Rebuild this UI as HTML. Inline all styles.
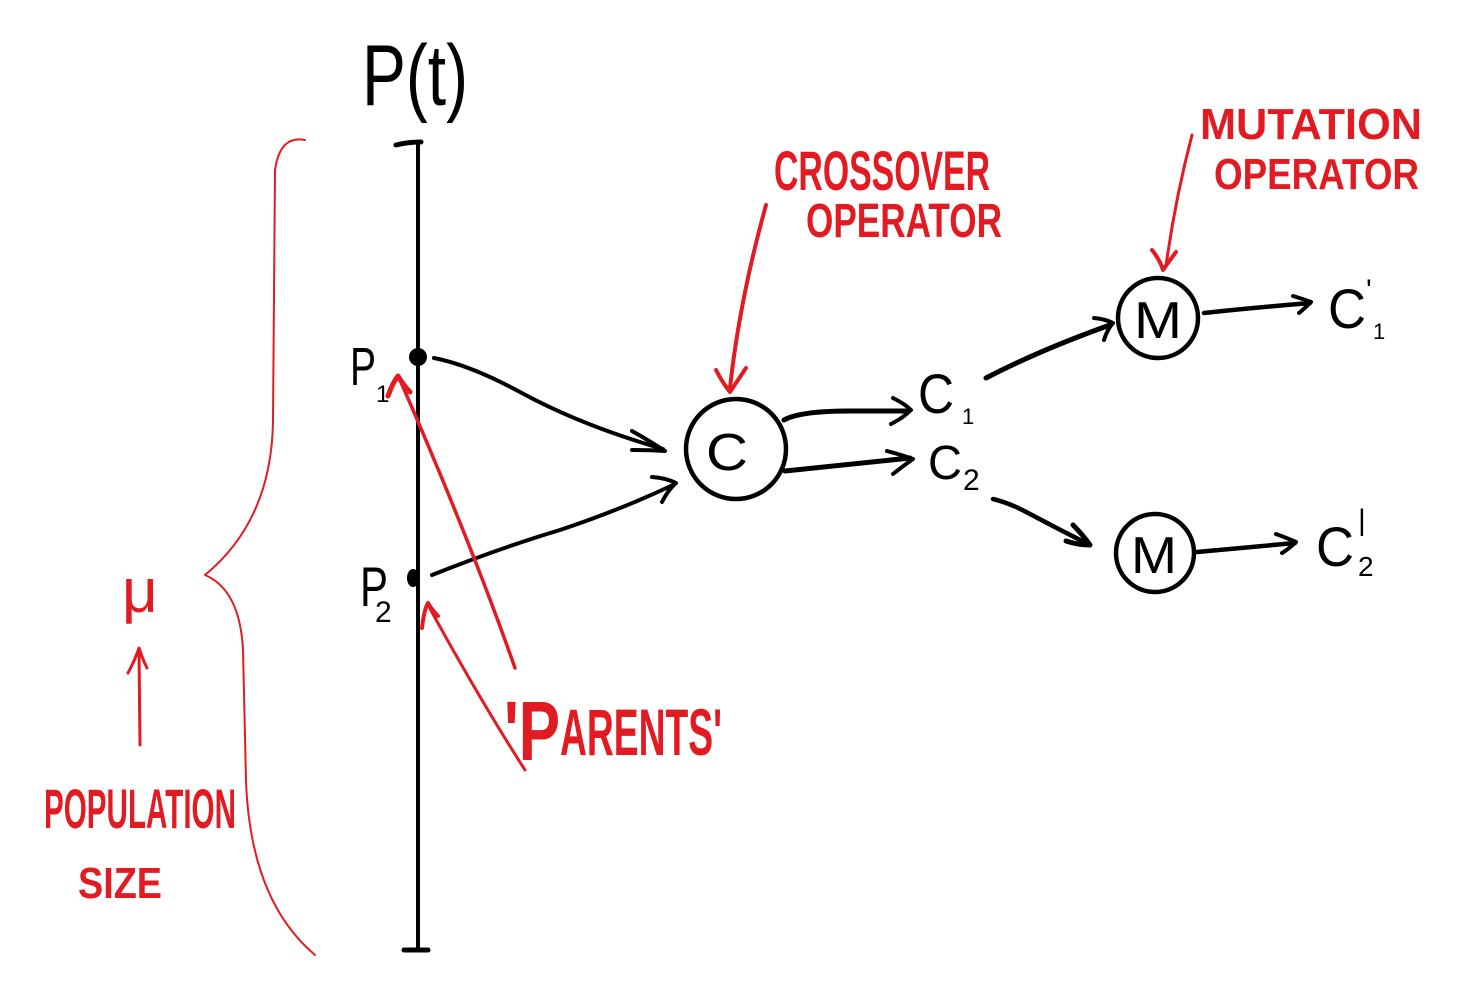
<!DOCTYPE html>
<html><head><meta charset="utf-8"><style>
html,body{margin:0;padding:0;background:#fff;}
svg{display:block;}
text{font-family:"Liberation Sans",sans-serif;}
.k{fill:#000;}
.r{fill:#e21b22;}
</style></head><body>
<svg width="1461" height="983" viewBox="0 0 1461 983" xmlns="http://www.w3.org/2000/svg">
<g fill="none" stroke="#000" stroke-linecap="round" stroke-linejoin="round">
  <path d="M418 145 L418 950" stroke-width="4"/>
  <path d="M396 145 Q408 142 421 142" stroke-width="5"/>
  <path d="M404 950 L428 950" stroke-width="5"/>
  <circle cx="418" cy="357" r="9" fill="#000" stroke="none"/>
  <ellipse cx="413" cy="578" rx="6" ry="9" fill="#000" stroke="none"/>
  <path d="M434 358 Q470 365 520 392 Q580 425 663 449" stroke-width="4"/>
  <path d="M632 431 Q648 440 665 451 Q650 450 632 450" stroke-width="4"/>
  <path d="M432 575 Q500 548 560 530 Q620 510 673 485" stroke-width="4"/>
  <path d="M652 477 Q666 478 676 483 Q668 490 662 502" stroke-width="4"/>
  <circle cx="736" cy="449" r="50" stroke-width="4.5"/>
  <path d="M784 420 Q800 411 850 411 L908 411" stroke-width="5"/>
  <path d="M893 398 Q905 404 911 410 Q903 418 891 424" stroke-width="4"/>
  <path d="M785 471 Q850 464 910 458" stroke-width="5"/>
  <path d="M887 451 Q902 455 913 459 Q903 466 893 474" stroke-width="4"/>
  <path d="M986 378 Q1040 350 1110 325" stroke-width="5"/>
  <path d="M1094 318 Q1105 319 1113 323 Q1107 330 1104 340" stroke-width="4"/>
  <circle cx="1158" cy="318" r="40" stroke-width="4.5"/>
  <path d="M1204 313 Q1250 308 1310 303" stroke-width="4.5"/>
  <path d="M1293 296 Q1303 299 1311 302 Q1304 309 1299 313" stroke-width="4"/>
  <path d="M993 499 Q1010 503 1030 514 Q1060 530 1090 545" stroke-width="4.5"/>
  <path d="M1073 525 Q1083 535 1090 545 Q1078 545 1066 541" stroke-width="5"/>
  <circle cx="1155" cy="553" r="39" stroke-width="4.5"/>
  <path d="M1197 552 Q1250 547 1295 543" stroke-width="4.5"/>
  <path d="M1276 534 Q1287 538 1296 542 Q1290 548 1282 553" stroke-width="4"/>
</g>

<g fill="none" stroke="#e21b22" stroke-linecap="round" stroke-linejoin="round">
  <path d="M305 140 Q280 135 275 170 L273 420 Q272 520 205 575 Q240 590 243 650 L246 780 Q250 900 315 955" stroke-width="2"/>
  <path d="M766 205 Q748 270 738 330 Q733 360 730 388" stroke-width="4"/>
  <path d="M716 370 Q722 382 730 392 Q738 380 746 368" stroke-width="4"/>
  <path d="M1192 135 Q1175 200 1166 266" stroke-width="3"/>
  <path d="M1152 250 Q1160 260 1163 270 Q1170 260 1176 252" stroke-width="4"/>
  <path d="M515 668 Q470 540 400 380" stroke-width="3.5"/>
  <path d="M388 396 Q393 382 398 376 Q404 386 410 392" stroke-width="5"/>
  <path d="M525 770 Q480 700 428 605" stroke-width="3"/>
  <path d="M422 628 Q424 610 428 603 Q432 610 438 616" stroke-width="4"/>
  <path d="M140 745 L139 650" stroke-width="3"/>
  <path d="M128 673 Q135 660 139 648 Q143 660 147 668" stroke-width="3"/>
</g>

<text class="k" x="362" y="105" font-size="86" textLength="106" lengthAdjust="spacingAndGlyphs">P(t)</text>
<text class="k" x="350" y="385" font-size="54" textLength="26" lengthAdjust="spacingAndGlyphs">P</text>
<text class="k" x="376" y="402" font-size="24">1</text>
<text class="k" x="360" y="606" font-size="56" textLength="28" lengthAdjust="spacingAndGlyphs">P</text>
<text class="k" x="375" y="622" font-size="30">2</text>
<text class="k" x="706" y="470" font-size="52" textLength="42" lengthAdjust="spacingAndGlyphs">C</text>
<text class="k" x="918" y="413" font-size="56" textLength="36" lengthAdjust="spacingAndGlyphs">C</text>
<text class="k" x="962" y="424" font-size="22">1</text>
<text class="k" x="928" y="479" font-size="48" textLength="34" lengthAdjust="spacingAndGlyphs">C</text>
<text class="k" x="963" y="490" font-size="30">2</text>
<text class="k" x="1134" y="338" font-size="52" textLength="48" lengthAdjust="spacingAndGlyphs">M</text>
<text class="k" x="1131" y="573" font-size="52" textLength="46" lengthAdjust="spacingAndGlyphs">M</text>
<text class="k" x="1328" y="328" font-size="56" textLength="38" lengthAdjust="spacingAndGlyphs">C</text>
<text class="k" x="1366" y="300" font-size="30">'</text>
<text class="k" x="1373" y="339" font-size="22">1</text>
<text class="k" x="1316" y="566" font-size="56" textLength="38" lengthAdjust="spacingAndGlyphs">C</text>
<text class="k" x="1358" y="530" font-size="30">|</text>
<text class="k" x="1358" y="576" font-size="28">2</text>

<text class="r" x="774" y="190" font-size="56" font-weight="bold" textLength="216" lengthAdjust="spacingAndGlyphs">CROSSOVER</text>
<text class="r" x="806" y="237" font-size="48" font-weight="bold" textLength="196" lengthAdjust="spacingAndGlyphs">OPERATOR</text>
<text class="r" x="1200" y="139" font-size="44" font-weight="bold" textLength="222" lengthAdjust="spacingAndGlyphs">MUTATION</text>
<text class="r" x="1214" y="189" font-size="44" font-weight="bold" textLength="205" lengthAdjust="spacingAndGlyphs">OPERATOR</text>
<text class="r" x="504" y="760" font-size="84" font-weight="bold" textLength="56" lengthAdjust="spacingAndGlyphs">'P</text>
<text class="r" x="560" y="755" font-size="66" font-weight="bold" textLength="162" lengthAdjust="spacingAndGlyphs">ARENTS'</text>
<text class="r" x="44" y="828" font-size="56" font-weight="bold" textLength="192" lengthAdjust="spacingAndGlyphs">POPULATION</text>
<text class="r" x="78" y="898" font-size="44" font-weight="bold" textLength="84" lengthAdjust="spacingAndGlyphs">SIZE</text>
<text class="r" x="122" y="612" font-size="62" font-family="Liberation Serif, serif">μ</text>
</svg>
</body></html>
